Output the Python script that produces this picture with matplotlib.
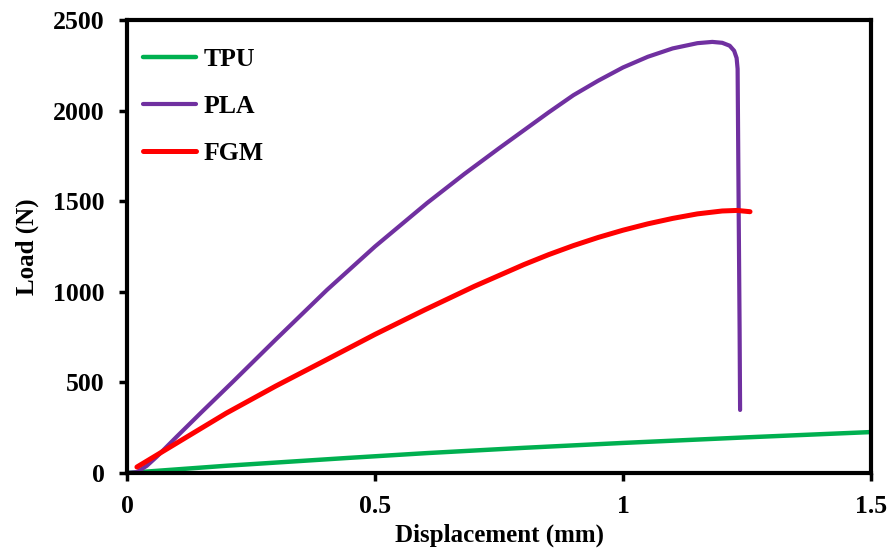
import matplotlib
matplotlib.use('Agg')
import matplotlib.pyplot as plt

# load-displacement curves
tpu_x = [0.0, 0.2, 0.444, 0.605, 0.8, 1.0, 1.25, 1.5]
tpu_y = [0, 40, 83, 110, 139, 166, 197, 226]

pla_x = [0.0, 0.02, 0.04, 0.06, 0.08, 0.1, 0.15, 0.214, 0.3, 0.403,
         0.5, 0.605, 0.68, 0.75, 0.85, 0.9, 0.95, 1.0, 1.05, 1.1,
         1.15, 1.18, 1.2, 1.215, 1.224, 1.229, 1.231, 1.233, 1.235, 1.236]
pla_y = [0, 5, 40, 90, 145, 200, 335, 505, 737, 1010,
         1250, 1490, 1650, 1792, 1990, 2085, 2165, 2238, 2297, 2343,
         2372, 2379, 2374, 2358, 2330, 2290, 2230, 1500, 800, 348]

fgm_x = [0.02, 0.1, 0.2, 0.3, 0.4, 0.5, 0.6, 0.7, 0.8, 0.85,
         0.9, 0.95, 1.0, 1.05, 1.1, 1.15, 1.2, 1.23, 1.256]
fgm_y = [33, 165, 330, 480, 622, 765, 900, 1030, 1150, 1205,
         1255, 1300, 1340, 1375, 1405, 1430, 1446, 1449, 1442]

plt.rcParams['font.family'] = ['Liberation Serif', 'DejaVu Serif']
plt.rcParams['font.weight'] = 'bold'

fig = plt.figure(figsize=(8.9, 5.58), dpi=100)
ax = fig.add_axes([0.1427, 0.1523, 0.836, 0.8119])

ax.plot(tpu_x, tpu_y, color='#00B050', lw=3.2, label='TPU', solid_capstyle='round')
ax.plot(pla_x, pla_y, color='#7030A0', lw=3.0, label='PLA',
        solid_capstyle='round', solid_joinstyle='round')
ax.plot(fgm_x, fgm_y, color='#FF0000', lw=3.6, label='FGM',
        solid_capstyle='round', solid_joinstyle='round')

ax.set_xlim(0, 1.5)
ax.set_ylim(0, 2500)
ax.set_xticks([0, 0.5, 1, 1.5])
ax.set_xticklabels(['0', '0.5', '1', '1.5'])
ax.set_yticks([0, 500, 1000, 1500, 2000, 2500])

for s in ax.spines.values():
    s.set_linewidth(3)
ax.tick_params(direction='out', length=6, width=2.5, labelsize=18.5, pad=10)
ax.tick_params(axis='x', top=False)
ax.tick_params(axis='y', right=False)
for lab in ax.get_xticklabels() + ax.get_yticklabels():
    lab.set_fontweight('bold')

ax.set_xlabel('Displacement (mm)', fontsize=18, fontweight='bold', labelpad=4)
ax.set_ylabel('Load (N)', fontsize=18, fontweight='bold', labelpad=10)

leg = ax.legend(loc='upper left', bbox_to_anchor=(0.008, 0.96), borderaxespad=0,
                frameon=False, handlelength=2.06, labelspacing=0.93,
                handletextpad=0.3, prop={'weight': 'bold', 'size': 18.5})

fig.savefig('out.png', dpi=100)
